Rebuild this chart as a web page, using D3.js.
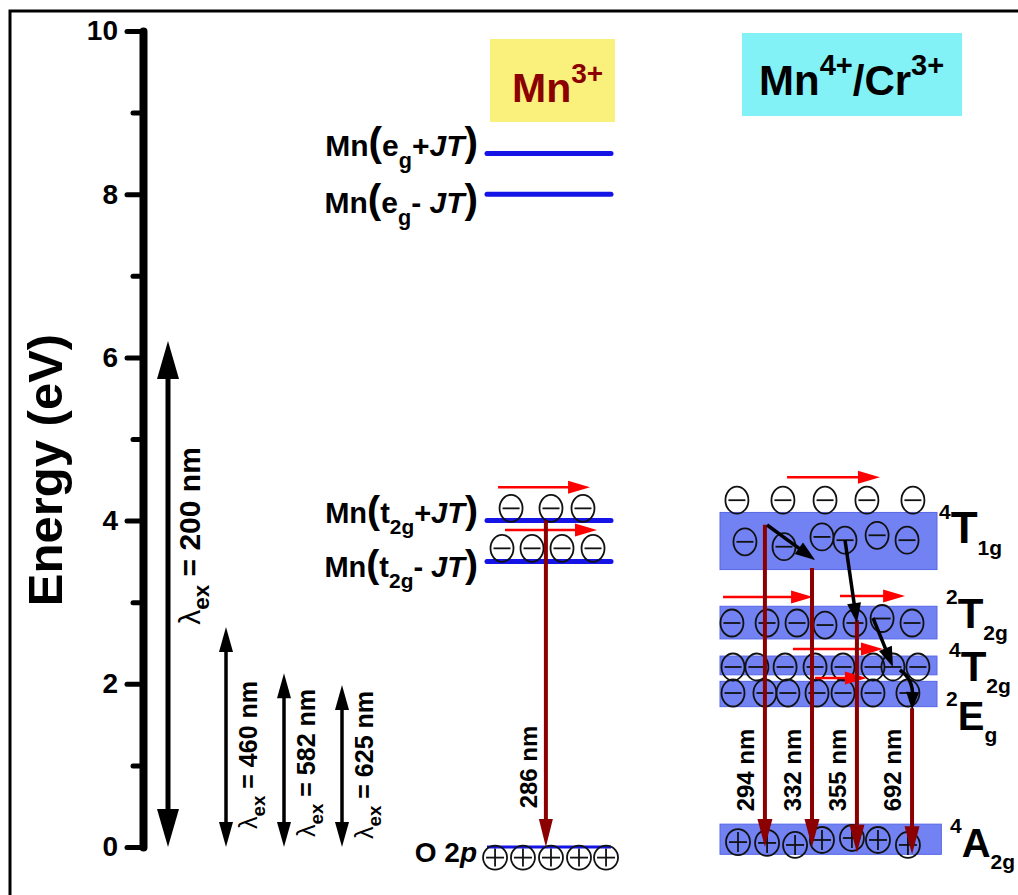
<!DOCTYPE html>
<html>
<head>
<meta charset="utf-8">
<script src="https://cdn.jsdelivr.net/npm/d3@7"></script>
<style>
body { margin: 0; background: #fff; }
svg { display: block; font-family: "Liberation Sans", Arial, sans-serif; font-weight: bold; }
</style>
</head>
<body>
<div id="chart"></div>
<script>
// ---- data (energies in eV, wavelengths in nm) ----
const yTicks = [0, 2, 4, 6, 8, 10];
const yMinorTicks = [1, 3, 5, 7, 9];
const exWavelengths = [200, 460, 582, 625];

// Mn3+ levels
const mn3Orbital = ["e", "e", "t", "t"];
const mn3Sub = ["g", "g", "2g", "2g"];
const mn3Sign = ["+", "- ", "+", "- "];
const mn3Energies = [8.5, 8.0, 4.0, 3.5];
const o2pEnergy = 0;
const mn3Emission = [286];
const mn3EmissionFrom = [4.0];

// Mn4+/Cr3+ bands
const mn4Sup = ["4", "2", "4", "2", "4"];
const mn4Main = ["T", "T", "T", "E", "A"];
const mn4Sub = ["1g", "2g", "2g", "g", "2g"];
const mn4BandLow = [3.40, 2.55, 2.11, 1.72, -0.09];
const mn4BandHigh = [4.10, 2.95, 2.34, 2.03, 0.28];
const mn4Emission = [294, 332, 355, 692];
const mn4EmissionFrom = [3.95, 3.42, 2.78, 1.70];
const mn4EmissionTo = [0.0, 0.0, -0.07, -0.09];

// ---- layout (band position 0..1, energy) ----
const mn3Electrons = [[.194, 4.15], [.516, 4.15], [.774, 4.15],
                      [.121, 3.66], [.363, 3.66], [.605, 3.66], [.855, 3.66]];
const mn3Holes = [[.065, -.13], [.29, -.13], [.516, -.13], [.742, -.13], [.96, -.13]];
const mn3Drift = [[.089, .831, 4.41], [.145, .887, 3.885]];

const mn4Electrons = [
  [.078, 4.25], [.29, 4.25], [.484, 4.25], [.677, 4.25], [.889, 4.25],
  [.115, 3.74], [.295, 3.68], [.47, 3.80], [.576, 3.76], [.724, 3.82], [.862, 3.76],
  [.055, 2.745], [.217, 2.745], [.355, 2.745], [.484, 2.72], [.622, 2.745], [.747, 2.80], [.885, 2.745],
  [.06, 2.206], [.17, 2.206], [.30, 2.206], [.438, 2.206], [.567, 2.206], [.705, 2.206], [.797, 2.206], [.912, 2.206],
  [.06, 1.887], [.207, 1.887], [.313, 1.887], [.447, 1.887], [.567, 1.887], [.705, 1.887], [.866, 1.887]
];
const mn4Holes = [[.083, .06], [.217, .05], [.346, .025], [.47, .086], [.608, .11], [.728, .086], [.866, .025]];
const mn4Drift = [[.309, .737, 4.53], [.014, .429, 3.064], [.553, .853, 3.076], [.336, .751, 2.426], [.438, .677, 2.071]];
const mn4EmissionPos = [.207, .424, .631, .885];
const mn4Relax = [[.217, 3.946, .438, 3.517], [.576, 3.762, .631, 2.745], [.705, 2.806, .797, 2.206]];
const mn4RelaxCurve = [.829, 2.169, .89, 2.06, .885, 1.679];

const W = 1018, H = 895;
const svg = d3.select("#chart").append("svg").attr("width", W).attr("height", H);

const y = d3.scaleLinear().domain([0, 10]).range([847, 31]);
const toEV = nm => 1240 / nm;
const xEx = d3.scalePoint().domain(exWavelengths).range([168, 342]);
const xMn3 = d3.scaleLinear().domain([0, 1]).range([487, 611]);
const xMn4 = d3.scaleLinear().domain([0, 1]).range([720, 937]);

const BLUE = "#1414e6", DARKRED = "#8b0000", RED = "#ff0000";

// frame
svg.append("path").attr("d", `M10,${H + 5}V11H${W + 5}`)
  .attr("fill", "none").attr("stroke", "#000").attr("stroke-width", 3);

// arrow helper: straight line with filled triangular head(s)
function arrow(g, x0, y0, x1, y1, o) {
  const dx = x1 - x0, dy = y1 - y0, L = Math.hypot(dx, dy);
  const ux = dx / L, uy = dy / L, px = -uy, py = ux;
  const hl = o.headLen, hw = o.headW / 2;
  const sx = o.double ? x0 + ux * hl * 0.8 : x0, sy = o.double ? y0 + uy * hl * 0.8 : y0;
  if (o.width > 0) {
    g.append("line").attr("x1", sx).attr("y1", sy)
      .attr("x2", x1 - ux * hl * 0.8).attr("y2", y1 - uy * hl * 0.8)
      .attr("stroke", o.color).attr("stroke-width", o.width);
  }
  const head = (tx, ty, vx, vy) => {
    const bx = tx - vx * hl, by = ty - vy * hl;
    g.append("path")
      .attr("d", `M${tx},${ty}L${bx + px * hw},${by + py * hw}L${bx - px * hw},${by - py * hw}Z`)
      .attr("fill", o.color);
  };
  head(x1, y1, ux, uy);
  if (o.double) head(x0, y0, -ux, -uy);
}

// electron (-) or hole (+)
function particle(g, cx, cy, sign, rx, ry) {
  g.append("ellipse").attr("cx", cx).attr("cy", cy).attr("rx", rx).attr("ry", ry)
    .attr("fill", "none").attr("stroke", "#111").attr("stroke-width", 1.8);
  g.append("line").attr("x1", cx - rx + 3).attr("x2", cx + rx - 3).attr("y1", cy).attr("y2", cy)
    .attr("stroke", "#111").attr("stroke-width", 1.8);
  if (sign > 0) g.append("line").attr("x1", cx).attr("x2", cx).attr("y1", cy - ry + 3).attr("y2", cy + ry - 3)
    .attr("stroke", "#111").attr("stroke-width", 1.8);
}

// rotated "xxx nm" label
function vLabel(g, x, yc, size, withLambda, nm) {
  const t = g.append("text").attr("transform", `translate(${x},${yc}) rotate(-90)`)
    .attr("text-anchor", "middle").attr("font-size", size);
  if (withLambda) {
    t.append("tspan").attr("font-weight", "normal").text("λ");
    t.append("tspan").attr("font-size", size * 0.75).attr("dy", size * 0.3).text("ex");
    t.append("tspan").attr("dy", -size * 0.3).text(` = ${nm} nm`);
  } else {
    t.text(`${nm} nm`);
  }
}

// ---- y axis ----
const axis = svg.append("g").attr("transform", "translate(143,0)")
  .call(d3.axisLeft(y).tickValues(yTicks).tickSize(16).tickSizeOuter(0).tickPadding(9).tickFormat(d3.format("d")))
  .attr("font-family", null).attr("font-size", 28);
axis.select(".domain").attr("stroke-width", 8).attr("stroke-linecap", "round");
axis.selectAll(".tick line").attr("stroke-width", 5).attr("stroke-linecap", "round");
axis.selectAll(".tick text").attr("fill", "#000");

const minor = svg.append("g").attr("transform", "translate(143,0)")
  .call(d3.axisLeft(y).tickValues(yMinorTicks).tickSize(10).tickSizeOuter(0).tickFormat(""));
minor.select(".domain").remove();
minor.selectAll(".tick line").attr("stroke-width", 5).attr("stroke-linecap", "round");

svg.append("text").attr("transform", "translate(62,470) rotate(-90)")
  .attr("text-anchor", "middle").attr("font-size", 49).text("Energy (eV)");

// ---- excitation arrows ----
const exG = svg.append("g");
const exLabelY = [536, 755, 763, 765];
exWavelengths.forEach((nm, i) => {
  const big = i === 0;
  arrow(exG, xEx(nm), y(0), xEx(nm), y(toEV(nm)), {
    color: "#000", width: big ? 5 : 3.5, headLen: big ? 38 : 25, headW: big ? 22 : 14, double: true
  });
  vLabel(exG, xEx(nm) + (big ? 32 : 31), exLabelY[i], big ? 30 : 25, true, nm);
});

// ---- Mn3+ column ----
const m3 = svg.append("g");
m3.append("rect").attr("x", 490).attr("y", 39).attr("width", 125).attr("height", 83).attr("fill", "#f9f17c");
const t3 = m3.append("text").attr("x", 512).attr("y", 102).attr("fill", DARKRED).attr("font-size", 41);
t3.append("tspan").text("Mn");
t3.append("tspan").attr("font-size", 28).attr("dy", -19).text("3+");

const mn3LabelDy = [3, 19, 2, 16];
const mn3LabelSize = [30, 30, 29, 29];
mn3Energies.forEach((e, i) => {
  m3.append("line").attr("x1", xMn3(0)).attr("x2", xMn3(1)).attr("y1", y(e)).attr("y2", y(e))
    .attr("stroke", BLUE).attr("stroke-width", 5).attr("stroke-linecap", "round");
  const s = mn3LabelSize[i];
  const t = m3.append("text").attr("x", 478).attr("y", y(e) + mn3LabelDy[i])
    .attr("text-anchor", "end").attr("font-size", s);
  t.append("tspan").text("Mn");
  t.append("tspan").attr("font-size", s * 1.35).text("(");
  t.append("tspan").text(mn3Orbital[i]);
  t.append("tspan").attr("font-size", s * 0.72).attr("dy", s * 0.38).text(mn3Sub[i]);
  t.append("tspan").attr("dy", -s * 0.38).text(mn3Sign[i]);
  t.append("tspan").attr("font-style", "italic").text("JT");
  t.append("tspan").attr("font-size", s * 1.35).text(")");
});

// O 2p level
m3.append("line").attr("x1", xMn3(0)).attr("x2", xMn3(1)).attr("y1", y(o2pEnergy)).attr("y2", y(o2pEnergy))
  .attr("stroke", BLUE).attr("stroke-width", 3);
const to = m3.append("text").attr("x", 477).attr("y", y(o2pEnergy) + 15).attr("text-anchor", "end").attr("font-size", 28);
to.append("tspan").text("O 2");
to.append("tspan").attr("font-style", "italic").text("p");

mn3Electrons.forEach(d => particle(m3, xMn3(d[0]), y(d[1]), -1, 11.5, 13.5));
mn3Holes.forEach(d => particle(m3, xMn3(d[0]), y(d[1]), 1, 12, 12));
mn3Drift.forEach(d => arrow(m3, xMn3(d[0]), y(d[2]), xMn3(d[1]), y(d[2]),
  { color: RED, width: 2.5, headLen: 22, headW: 13 }));

mn3Emission.forEach((nm, i) => {
  const x = xMn3(.475);
  arrow(m3, x, y(mn3EmissionFrom[i]), x, y(o2pEnergy), { color: DARKRED, width: 4, headLen: 28, headW: 14 });
  vLabel(m3, x - 9, 767, 24, false, nm);
});

// ---- Mn4+/Cr3+ column ----
const m4 = svg.append("g");
m4.append("rect").attr("x", 742).attr("y", 33).attr("width", 220).attr("height", 83).attr("fill", "#82f2f6");
const t4 = m4.append("text").attr("x", 759).attr("y", 95).attr("fill", "#000").attr("font-size", 42);
t4.append("tspan").text("Mn");
t4.append("tspan").attr("font-size", 29).attr("dy", -20).text("4+");
t4.append("tspan").attr("dy", 20).text("/Cr");
t4.append("tspan").attr("font-size", 29).attr("dy", -20).text("3+");

const bandLabelX = [939, 946, 949, 946, 950];
const bandLabelDy = [2, 5, 16, 36, 18];
const bandLabelSize = [44, 42, 42, 40, 40];
mn4BandLow.forEach((lo, i) => {
  const hi = mn4BandHigh[i];
  m4.append("rect").attr("x", xMn4(0)).attr("width", xMn4(i === 4 ? 1.02 : 1) - xMn4(0))
    .attr("y", y(hi)).attr("height", y(lo) - y(hi))
    .attr("fill", "#7282f2").attr("stroke", "#5566e6").attr("stroke-width", 1);
  const t = m4.append("text").attr("x", bandLabelX[i]).attr("y", (y(lo) + y(hi)) / 2 + bandLabelDy[i])
    .attr("font-size", bandLabelSize[i]);
  t.append("tspan").attr("font-size", 21).attr("dy", -24).text(mn4Sup[i]);
  t.append("tspan").attr("dy", 24).text(mn4Main[i]);
  t.append("tspan").attr("font-size", 21).attr("dy", 12).text(mn4Sub[i]);
});

mn4Electrons.forEach(d => particle(m4, xMn4(d[0]), y(d[1]), -1, 11.5, 13.5));
mn4Holes.forEach(d => particle(m4, xMn4(d[0]), y(d[1]), 1, 12, 13));
mn4Drift.forEach(d => arrow(m4, xMn4(d[0]), y(d[2]), xMn4(d[1]), y(d[2]),
  { color: RED, width: 2.5, headLen: 22, headW: 13 }));

mn4Emission.forEach((nm, i) => {
  const x = xMn4(mn4EmissionPos[i]);
  arrow(m4, x, y(mn4EmissionFrom[i]), x, y(mn4EmissionTo[i]), { color: DARKRED, width: 4, headLen: 28, headW: 15 });
  vLabel(m4, x - 11, 770, 24, false, nm);
});

mn4Relax.forEach(d => arrow(m4, xMn4(d[0]), y(d[1]), xMn4(d[2]), y(d[3]),
  { color: "#000", width: 3.5, headLen: 20, headW: 14 }));

// curved relaxation into 2Eg
{
  const [a0, e0, c0, ce, a1, e1] = mn4RelaxCurve;
  const p0 = [xMn4(a0), y(e0)], c = [xMn4(c0), y(ce)], p1 = [xMn4(a1), y(e1)];
  const L = Math.hypot(p1[0] - c[0], p1[1] - c[1]);
  const ux = (p1[0] - c[0]) / L, uy = (p1[1] - c[1]) / L;
  const q = [p1[0] - ux * 14, p1[1] - uy * 14];
  m4.append("path").attr("d", `M${p0}Q${c} ${q}`)
    .attr("fill", "none").attr("stroke", "#000").attr("stroke-width", 3.5);
  arrow(m4, q[0], q[1], p1[0], p1[1], { color: "#000", width: 0, headLen: 18, headW: 13 });
}
</script>
</body>
</html>
